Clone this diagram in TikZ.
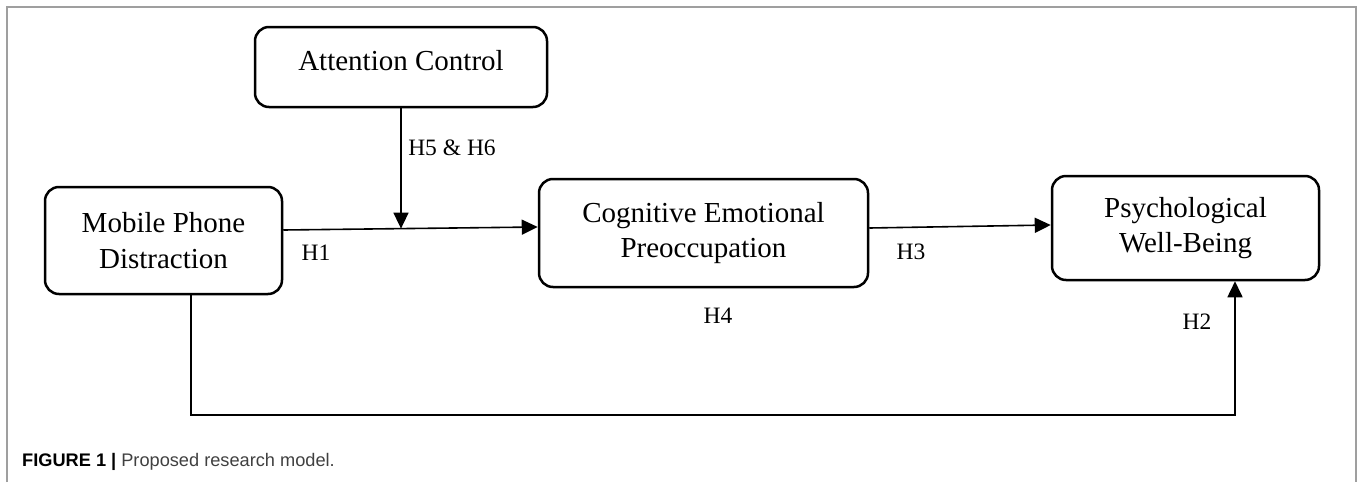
\documentclass[tikz,border=0pt]{standalone}
\usepackage{fontspec}
\setmainfont{Liberation Serif}
\newfontfamily\capfont{Liberation Sans}
\usetikzlibrary{arrows.meta}

\begin{document}
\begin{tikzpicture}[x=1pt, y=-1pt, >={Triangle[length=16pt,width=15pt]},
    var/.style={draw, line width=2.5pt, rounded corners=14pt, inner sep=0pt,
        align=center, font=\fontsize{29}{35.5}\selectfont},
    link/.style={->, line width=1.6pt},
    hyp/.style={font=\fontsize{23.5}{27}\selectfont}]
    \useasboundingbox (0,0) rectangle (1360,482);

    % frame
    \draw[gray!75, line width=1.5pt] (7,482) -- (7,7) -- (1356,7) -- (1356,482);

    % variables
    \node[var, minimum width=292pt, minimum height=80pt] (ac) at (401,67)
        {\raisebox{6pt}[\height][\depth]{Attention Control}};
    \node[var, minimum width=237pt, minimum height=107pt] (mpd) at (163.5,240.5) {Mobile Phone\\Distraction};
    \node[var, minimum width=329pt, minimum height=108pt] (cep) at (703.5,233) {Cognitive Emotional\\Preoccupation};
    \node[var, minimum width=267pt, minimum height=104pt] (psy) at (1185.5,228) {Psychological\\Well-Being};

    % direct paths
    \draw[link] ([yshift=10.5pt]mpd.east) -- coordinate[pos=0.46] (h1mid) ([yshift=6pt]cep.west);
    \draw[link] ([yshift=5pt]cep.east) -- ([yshift=3pt]psy.west);

    % moderation
    \draw[link] (ac.south) -- (ac.south |- h1mid);

    % mobile phone -> well-being
    \coordinate (mpdout) at ([xshift=27.5pt]mpd.south);
    \coordinate (psyin) at ([xshift=49.5pt]psy.south);
    \draw[link] (mpdout) -- ++(0,120) -| (psyin);

    % hypotheses
    \node[hyp] (h1) at (316,253) {H1};
    \node[hyp] (h56) at (452,148) {H5 \& H6};
    \node[hyp] (h3) at (911,252) {H3};
    \node[hyp] (h4) at (718,316) {H4};
    \node[hyp] (h2) at (1197,322) {H2};

    % caption
    \node[anchor=west, inner sep=0pt, font=\capfont\fontsize{18.2}{21}\selectfont] (cap) at (22,462)
        {\textbf{FIGURE 1 |} \textcolor{black!75}{Proposed research model.}};
\end{tikzpicture}
\end{document}
